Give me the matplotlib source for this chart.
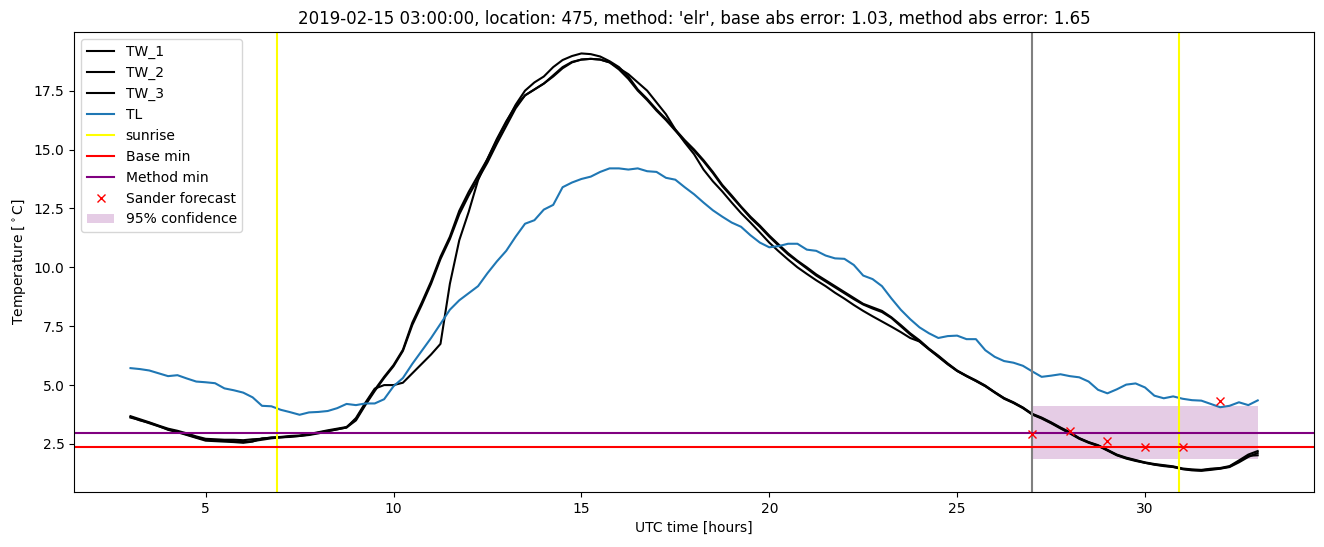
import numpy as np
import matplotlib
matplotlib.use("Agg")
import matplotlib.pyplot as plt

t_start, t_step = 3.0, 0.25

TL = [5.72, 5.68, 5.62, 5.50, 5.38, 5.42, 5.28, 5.15, 5.12, 5.08,
      4.86, 4.78, 4.68, 4.48, 4.12, 4.10, 3.95, 3.85, 3.74, 3.84,
      3.86, 3.90, 4.02, 4.20, 4.15, 4.22, 4.22, 4.40, 4.95, 5.30,
      5.90, 6.45, 7.00, 7.60, 8.20, 8.60, 8.90, 9.20, 9.75, 10.25,
      10.70, 11.30, 11.85, 12.00, 12.45, 12.65, 13.40, 13.60, 13.75, 13.85,
      14.05, 14.20, 14.20, 14.15, 14.20, 14.08, 14.05, 13.80, 13.72, 13.40,
      13.10, 12.75, 12.42, 12.15, 11.90, 11.72, 11.36, 11.05, 10.85, 10.90,
      11.00, 11.00, 10.75, 10.70, 10.50, 10.38, 10.36, 10.10, 9.65, 9.50,
      9.20, 8.68, 8.20, 7.80, 7.45, 7.20, 7.00, 7.08, 7.10, 6.95,
      6.95, 6.48, 6.20, 6.02, 5.95, 5.82, 5.58, 5.35, 5.40, 5.46,
      5.38, 5.33, 5.15, 4.80, 4.65, 4.82, 5.02, 5.07, 4.90, 4.55,
      4.44, 4.52, 4.42, 4.36, 4.34, 4.20, 4.06, 4.12, 4.27, 4.15,
      4.35]

TW_1 = [3.68, 3.55, 3.42, 3.28, 3.15, 3.06, 2.95, 2.82, 2.72, 2.70,
        2.68, 2.68, 2.66, 2.70, 2.72, 2.78, 2.80, 2.84, 2.86, 2.92,
        3.00, 3.08, 3.15, 3.22, 3.55, 4.20, 4.80, 5.35, 5.85, 6.50,
        7.65, 8.50, 9.40, 10.45, 11.30, 12.40, 13.20, 13.90, 14.60, 15.40,
        16.15, 16.90, 17.50, 17.85, 18.10, 18.50, 18.80, 18.97, 19.08, 19.05,
        18.95, 18.75, 18.50, 18.10, 17.55, 17.15, 16.70, 16.30, 15.85, 15.40,
        15.00, 14.55, 14.05, 13.50, 13.05, 12.58, 12.15, 11.77, 11.35, 10.97,
        10.60, 10.28, 10.00, 9.70, 9.45, 9.20, 8.95, 8.70, 8.45, 8.30,
        8.15, 7.88, 7.55, 7.20, 6.90, 6.55, 6.25, 5.92, 5.62, 5.40,
        5.20, 4.98, 4.70, 4.45, 4.27, 4.05, 3.78, 3.62, 3.42, 3.20,
        3.00, 2.75, 2.58, 2.45, 2.25, 2.05, 1.92, 1.82, 1.72, 1.65,
        1.60, 1.55, 1.46, 1.42, 1.40, 1.45, 1.48, 1.56, 1.80, 2.05,
        2.20]

TW_2 = [3.62, 3.52, 3.38, 3.25, 3.12, 3.02, 2.90, 2.78, 2.68, 2.65,
        2.63, 2.62, 2.58, 2.62, 2.68, 2.74, 2.78, 2.82, 2.84, 2.90,
        2.98, 3.05, 3.12, 3.20, 3.50, 4.15, 4.75, 5.30, 5.80, 6.45,
        7.55, 8.40, 9.30, 10.35, 11.20, 12.25, 13.05, 13.75, 14.45, 15.25,
        16.00, 16.75, 17.30, 17.55, 17.80, 18.10, 18.45, 18.70, 18.82, 18.85,
        18.82, 18.70, 18.40, 18.00, 17.50, 17.10, 16.65, 16.25, 15.80, 15.35,
        14.95, 14.50, 14.00, 13.45, 13.00, 12.55, 12.10, 11.72, 11.30, 10.92,
        10.55, 10.25, 9.95, 9.65, 9.40, 9.15, 8.90, 8.65, 8.42, 8.25,
        8.10, 7.85, 7.50, 7.15, 6.85, 6.52, 6.20, 5.88, 5.60, 5.38,
        5.17, 4.95, 4.68, 4.42, 4.24, 4.02, 3.75, 3.58, 3.38, 3.16,
        2.95, 2.72, 2.55, 2.42, 2.22, 2.02, 1.88, 1.78, 1.70, 1.62,
        1.56, 1.52, 1.43, 1.38, 1.36, 1.40, 1.45, 1.52, 1.72, 1.95,
        2.12]

TW_3 = [3.65, 3.50, 3.40, 3.26, 3.10, 3.00, 2.88, 2.76, 2.64, 2.62,
        2.60, 2.58, 2.55, 2.60, 2.74, 2.76, 2.78, 2.80, 2.84, 2.88,
        2.95, 3.04, 3.12, 3.20, 3.60, 4.25, 4.85, 5.00, 5.00, 5.10,
        5.50, 5.90, 6.30, 6.75, 9.30, 11.15, 12.35, 13.70, 14.60, 15.45,
        16.20, 16.85, 17.30, 17.55, 17.80, 18.15, 18.50, 18.72, 18.82, 18.85,
        18.82, 18.70, 18.45, 18.20, 17.85, 17.50, 17.00, 16.50, 15.85, 15.30,
        14.80, 14.15, 13.65, 13.22, 12.75, 12.30, 11.90, 11.48, 11.05, 10.68,
        10.33, 10.00, 9.72, 9.45, 9.20, 8.92, 8.67, 8.40, 8.15, 7.92,
        7.70, 7.48, 7.25, 7.00, 6.85, 6.52, 6.22, 5.90, 5.60, 5.38,
        5.18, 4.96, 4.70, 4.44, 4.25, 4.04, 3.76, 3.60, 3.40, 3.18,
        2.97, 2.74, 2.57, 2.43, 2.24, 2.03, 1.90, 1.80, 1.70, 1.63,
        1.58, 1.53, 1.44, 1.40, 1.38, 1.43, 1.46, 1.54, 1.76, 2.00,
        2.02]

sunrise_times = [6.9, 30.9]
forecast_start = 27.0
base_min = 2.37
method_min = 2.95
sander_x = [27, 28, 29, 30, 31, 32]
sander_y = [2.92, 3.05, 2.63, 2.37, 2.37, 4.32]
conf_x = [27, 33]
conf_low = [1.86, 1.86]
conf_high = [4.11, 4.11]

n = len(TL)
t = t_start + t_step * np.arange(n)

fig = plt.figure(figsize=(13.24, 5.47), dpi=100)
ax = fig.add_axes([0.056, 0.1005, 0.9365, 0.841])

ax.plot(t, TW_1, color="black", label="TW_1")
ax.plot(t, TW_2, color="black", label="TW_2")
ax.plot(t, TW_3, color="black", label="TW_3")
ax.plot(t, TL, color="C0", label="TL")
ax.axvline(sunrise_times[0], color="yellow", label="sunrise")
ax.axvline(sunrise_times[1], color="yellow")
ax.axvline(forecast_start, color="gray")
ax.axhline(base_min, color="red", label="Base min")
ax.axhline(method_min, color="purple", label="Method min")
ax.plot(sander_x, sander_y, "x", color="red", linestyle="none", label="Sander forecast")
ax.fill_between(conf_x, conf_low, conf_high, color="purple", alpha=0.2, linewidth=0, label="95% confidence")

ax.set_xlim(1.5, 34.5)
ax.set_ylim(0.46, 19.99)
ax.set_xlabel("UTC time [hours]")
ax.set_ylabel("Temperature [$^\\circ$C]")
ax.set_title("2019-02-15 03:00:00, location: 475, method: 'elr', base abs error: 1.03, method abs error: 1.65")
ax.legend(loc="upper left")

fig.savefig("out.png", dpi=100)
